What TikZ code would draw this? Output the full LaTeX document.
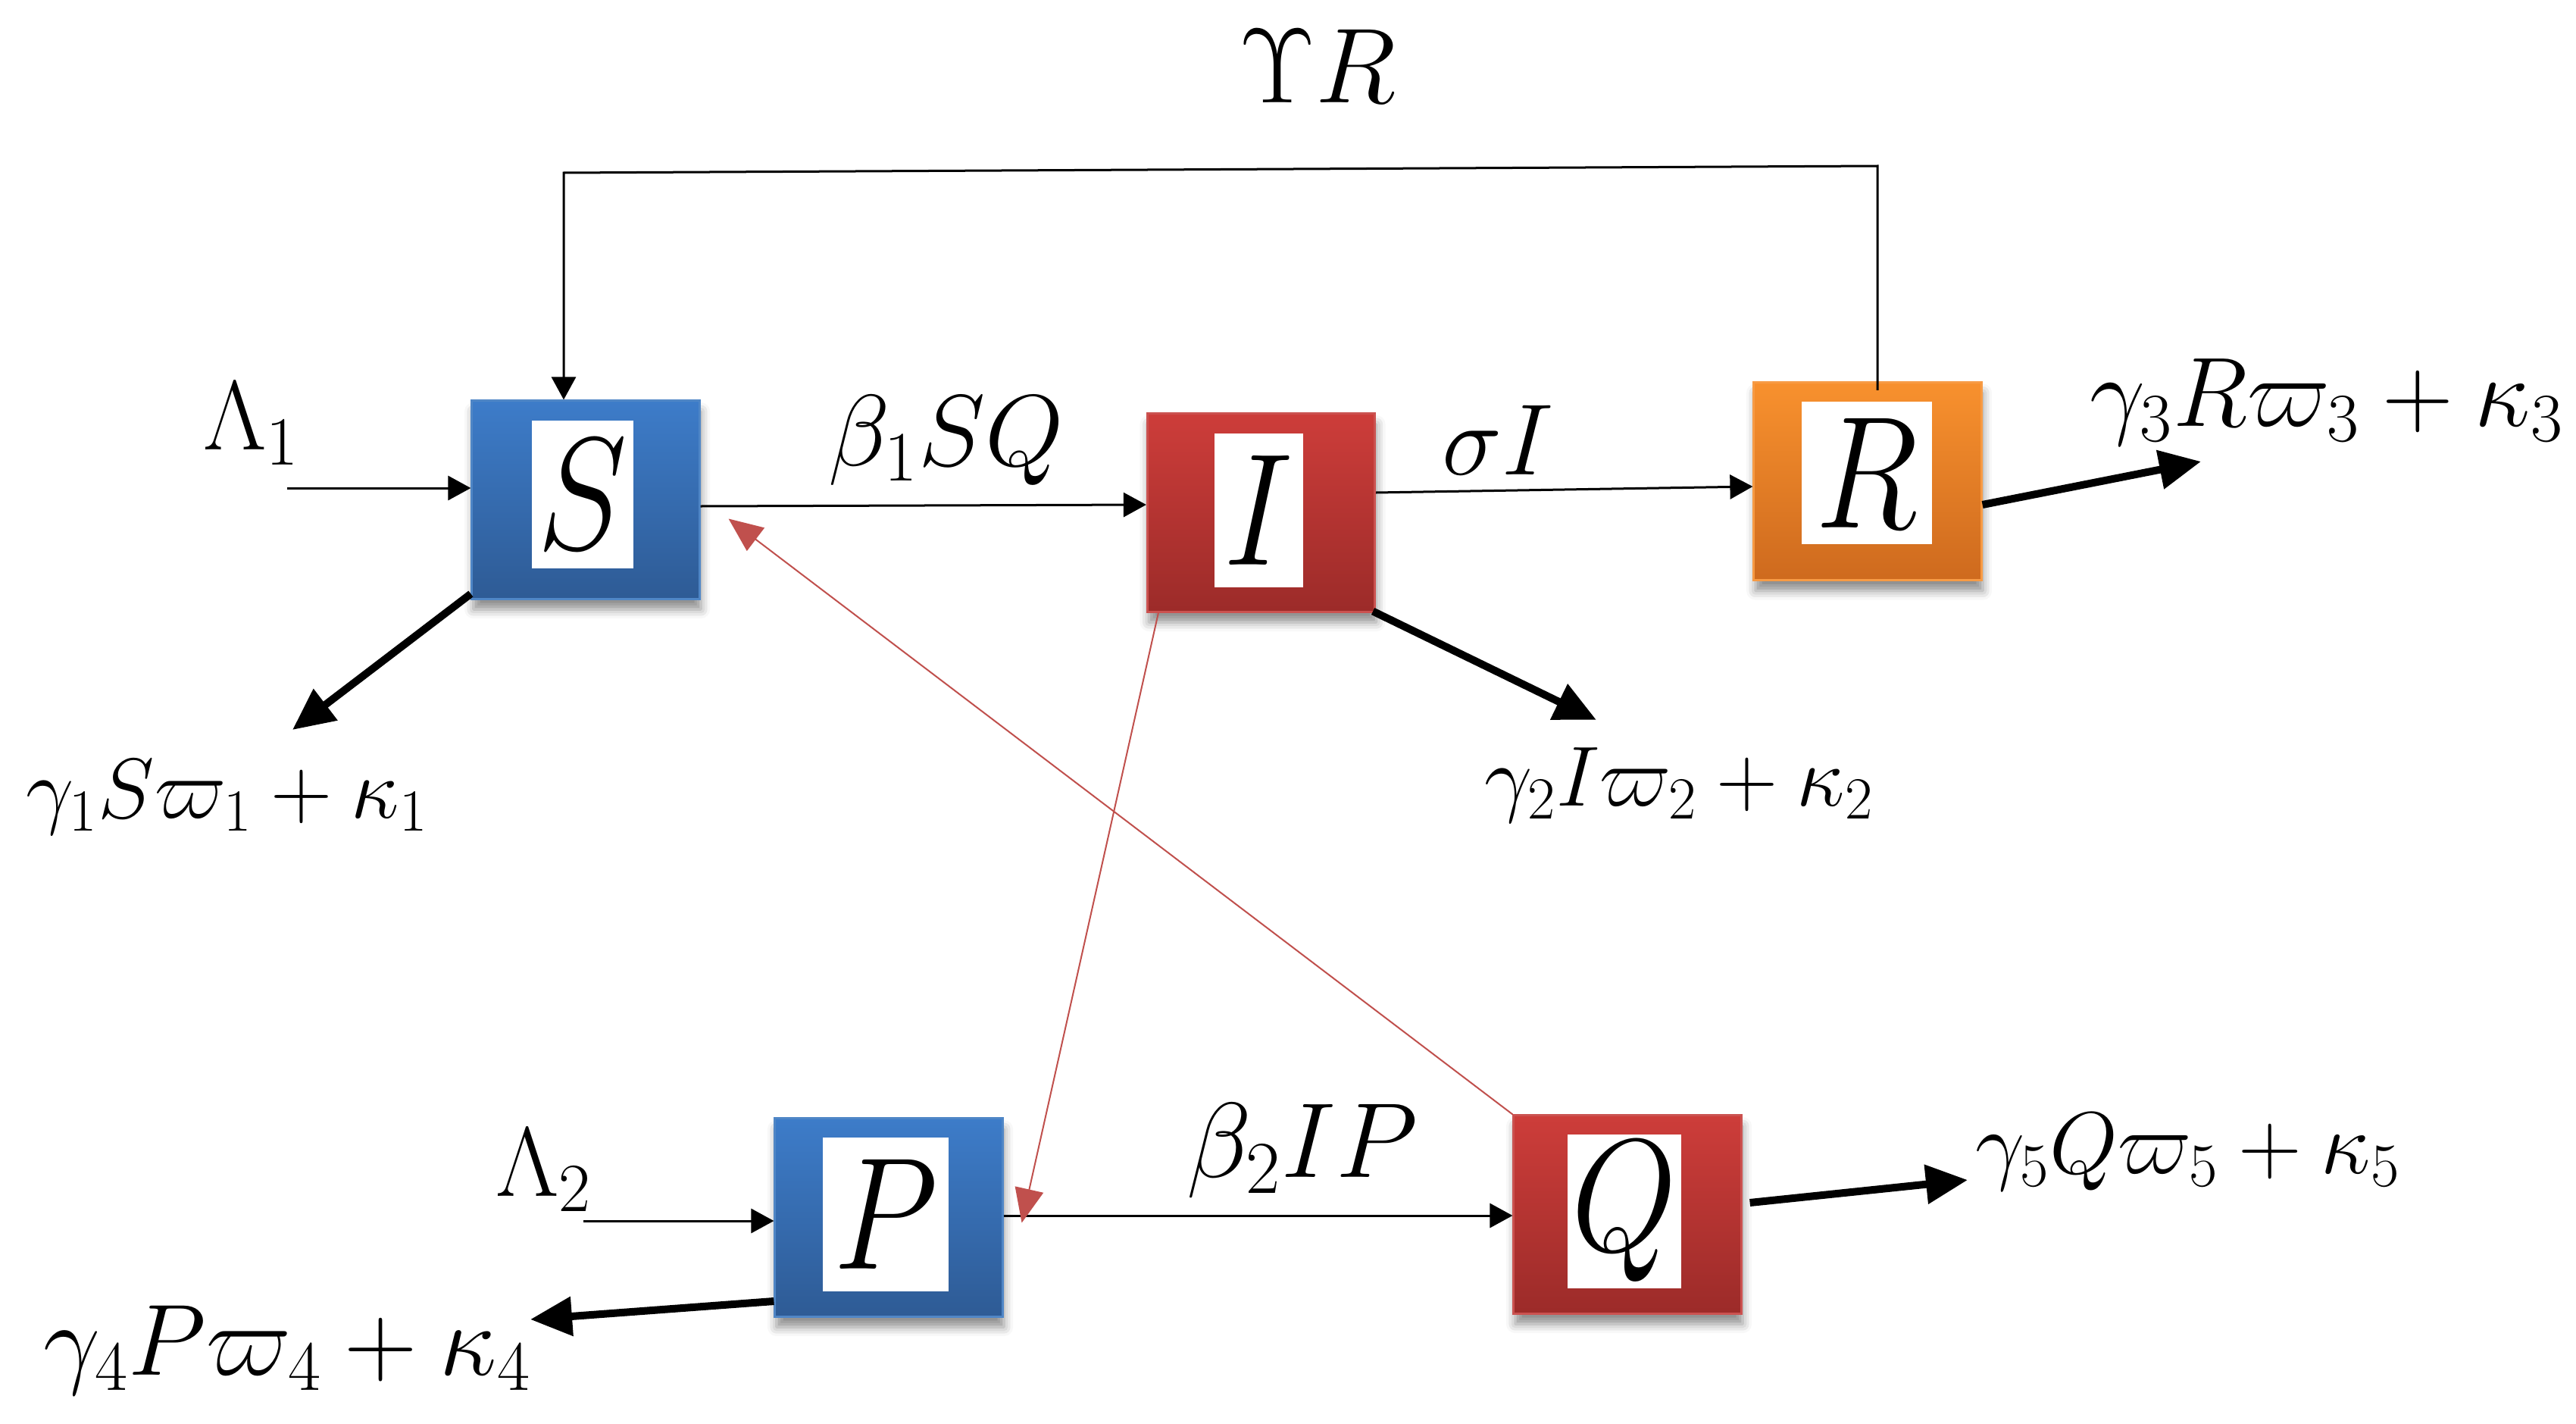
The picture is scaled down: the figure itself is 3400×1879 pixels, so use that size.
\RequirePackage{fix-cm}
\documentclass[tikz,border=0pt]{standalone}
\usepackage{graphicx}
\usetikzlibrary{arrows.meta,calc,shadows.blur}
\definecolor{bluet}{HTML}{3D7CC9}
\definecolor{blued}{HTML}{2E5B95}
\definecolor{blueb}{HTML}{4F86C6}
\definecolor{redt}{HTML}{CD3D3A}
\definecolor{redd}{HTML}{9C2B29}
\definecolor{redb}{HTML}{CB5250}
\definecolor{oranget}{HTML}{F8912E}
\definecolor{oranged}{HTML}{CE6A1E}
\definecolor{orangeb}{HTML}{F79B45}
\definecolor{redline}{HTML}{C0504D}
\tikzset{
  comp/.style={rectangle, minimum width=3cm, minimum height=2.61cm, inner sep=0pt,
    line width=0.03cm,
    blur shadow={shadow xshift=0.02cm, shadow yshift=-0.14cm, shadow opacity=45, shadow blur radius=0.12cm}},
  bluebox/.style={comp, draw=blueb, top color=bluet, bottom color=blued},
  redbox/.style={comp, draw=redb, top color=redt, bottom color=redd},
  orangebox/.style={comp, draw=orangeb, top color=oranget, bottom color=oranged},
  letter/.style={fill=white, inner sep=0pt, font=\fontsize{60}{60}\selectfont},
  flow/.style={draw=black, line width=0.03cm, -{Triangle[length=0.3cm,width=0.32cm]}},
  exit/.style={draw=black, line width=0.1cm, -{Triangle[length=0.55cm,width=0.5cm]}},
  infl/.style={draw=redline, line width=0.02cm, -{Triangle[length=0.45cm,width=0.38cm]}},
  lab/.style={inner sep=0pt},
}
\begin{document}
\begin{tikzpicture}[x=0.01cm, y=-0.01cm]
\useasboundingbox (0,0) rectangle (3400,1879);

% compartments
\node[bluebox]   (S) at (773,659.5) {};
\node[redbox]    (I) at (1664.5,676.5) {};
\node[orangebox] (R) at (2465,635) {};
\node[bluebox]   (P) at (1173,1606.5) {};
\node[redbox]    (Q) at (2148,1602.5) {};

\node[letter, minimum width=1.34cm, minimum height=1.94cm] (St) at ($(S)+(-4,-7)$) {\scalebox{0.85}[1]{$S$}};
\node[letter, minimum width=1.16cm, minimum height=2.03cm] (It) at ($(I)+(-3,-3)$) {\scalebox{0.85}[1]{$I$}};
\node[letter, minimum width=1.71cm, minimum height=1.87cm] (Rt) at ($(R)+(-1,-11)$) {\scalebox{0.85}[1]{$R$}};
\node[letter, minimum width=1.66cm, minimum height=2.03cm] (Pt) at ($(P)+(-4,-4)$) {\scalebox{0.85}[1]{$P$}};
\node[letter, minimum width=1.50cm, minimum height=2.02cm] (Qt) at ($(Q)+(-4,-4)$) {\scalebox{0.85}[1]{$Q$}};

% labels
\node[lab, font=\fontsize{40}{40}\selectfont] (ups) at (1739,87) {$\Upsilon R$};
\node[lab, font=\fontsize{37}{37}\selectfont] (lam1) at (332,559) {$\Lambda_1$};
\node[lab, font=\fontsize{38}{38}\selectfont] (b1) at (1249,581) {$\beta_1 SQ$};
\node[lab, font=\fontsize{38}{38}\selectfont] (sig) at (1977,581) {$\sigma I$};
\node[lab, font=\fontsize{37}{37}\selectfont] (lam2) at (718,1544) {$\Lambda_2$};
\node[lab, font=\fontsize{40}{40}\selectfont] (b2) at (1719,1518) {$\beta_2 IP$};
\node[lab, font=\fontsize{32}{32}\selectfont] (o1) at (300,1052) {$\gamma_1 S\varpi_1+\kappa_1$};
\node[lab, font=\fontsize{32}{32}\selectfont] (o2) at (2216,1036) {$\gamma_2 I\varpi_2+\kappa_2$};
\node[lab, font=\fontsize{37}{37}\selectfont, anchor=west] (o3) at (2758,531) {$\gamma_3 R\varpi_3+\kappa_3$};
\node[lab, font=\fontsize{38}{38}\selectfont] (o4) at (379,1782) {$\gamma_4 P\varpi_4+\kappa_4$};
\node[lab, font=\fontsize{33}{33}\selectfont] (o5) at (2888,1520) {$\gamma_5 Q\varpi_5+\kappa_5$};

% free ends
\coordinate (fbR) at (2478,219);
\coordinate (fbL) at (744,228);
\coordinate (in1) at (379,644);
\coordinate (in2) at (770,1611);
\coordinate (e1) at (386,963);
\coordinate (e2) at (2107,950);
\coordinate (e3) at (2905,609);
\coordinate (e4) at (700,1741);
\coordinate (e5) at (2597,1557);

% feedback
\draw[flow] ($(R.north)+(13,12)$) -- (fbR) -- (fbL) -- (fbL |- S.north);

% main flows
\draw[flow] (in1) -- (in1 -| S.west);
\draw[flow] (S.east |- 0,668) -- (I.west |- 0,666);
\draw[flow] (I.east |- 0,650) -- (R.west |- 0,642);
\draw[flow] (in2) -- (in2 -| P.west);
\draw[flow] (P.east |- 0,1604) -- (Q.west |- 0,1604);

% exits
\draw[exit] ($(S.south west)+(0,-8)$) -- (e1);
\draw[exit] ($(I.south east)+(-4,-2)$) -- (e2);
\draw[exit] (R.east |- 0,666) -- (e3);
\draw[exit] (P.west |- 0,1717) -- (e4);
\draw[exit] ($(Q.east |- 0,1587)+(10,0)$) -- (e5);

% infection links
\draw[infl] ($(I.south west)+(16,0)$) -- ($(P.east)+(24,7)$);
\draw[infl] (Q.north west) -- ($(S.east)+(37,25)$);
\end{tikzpicture}
\end{document}
